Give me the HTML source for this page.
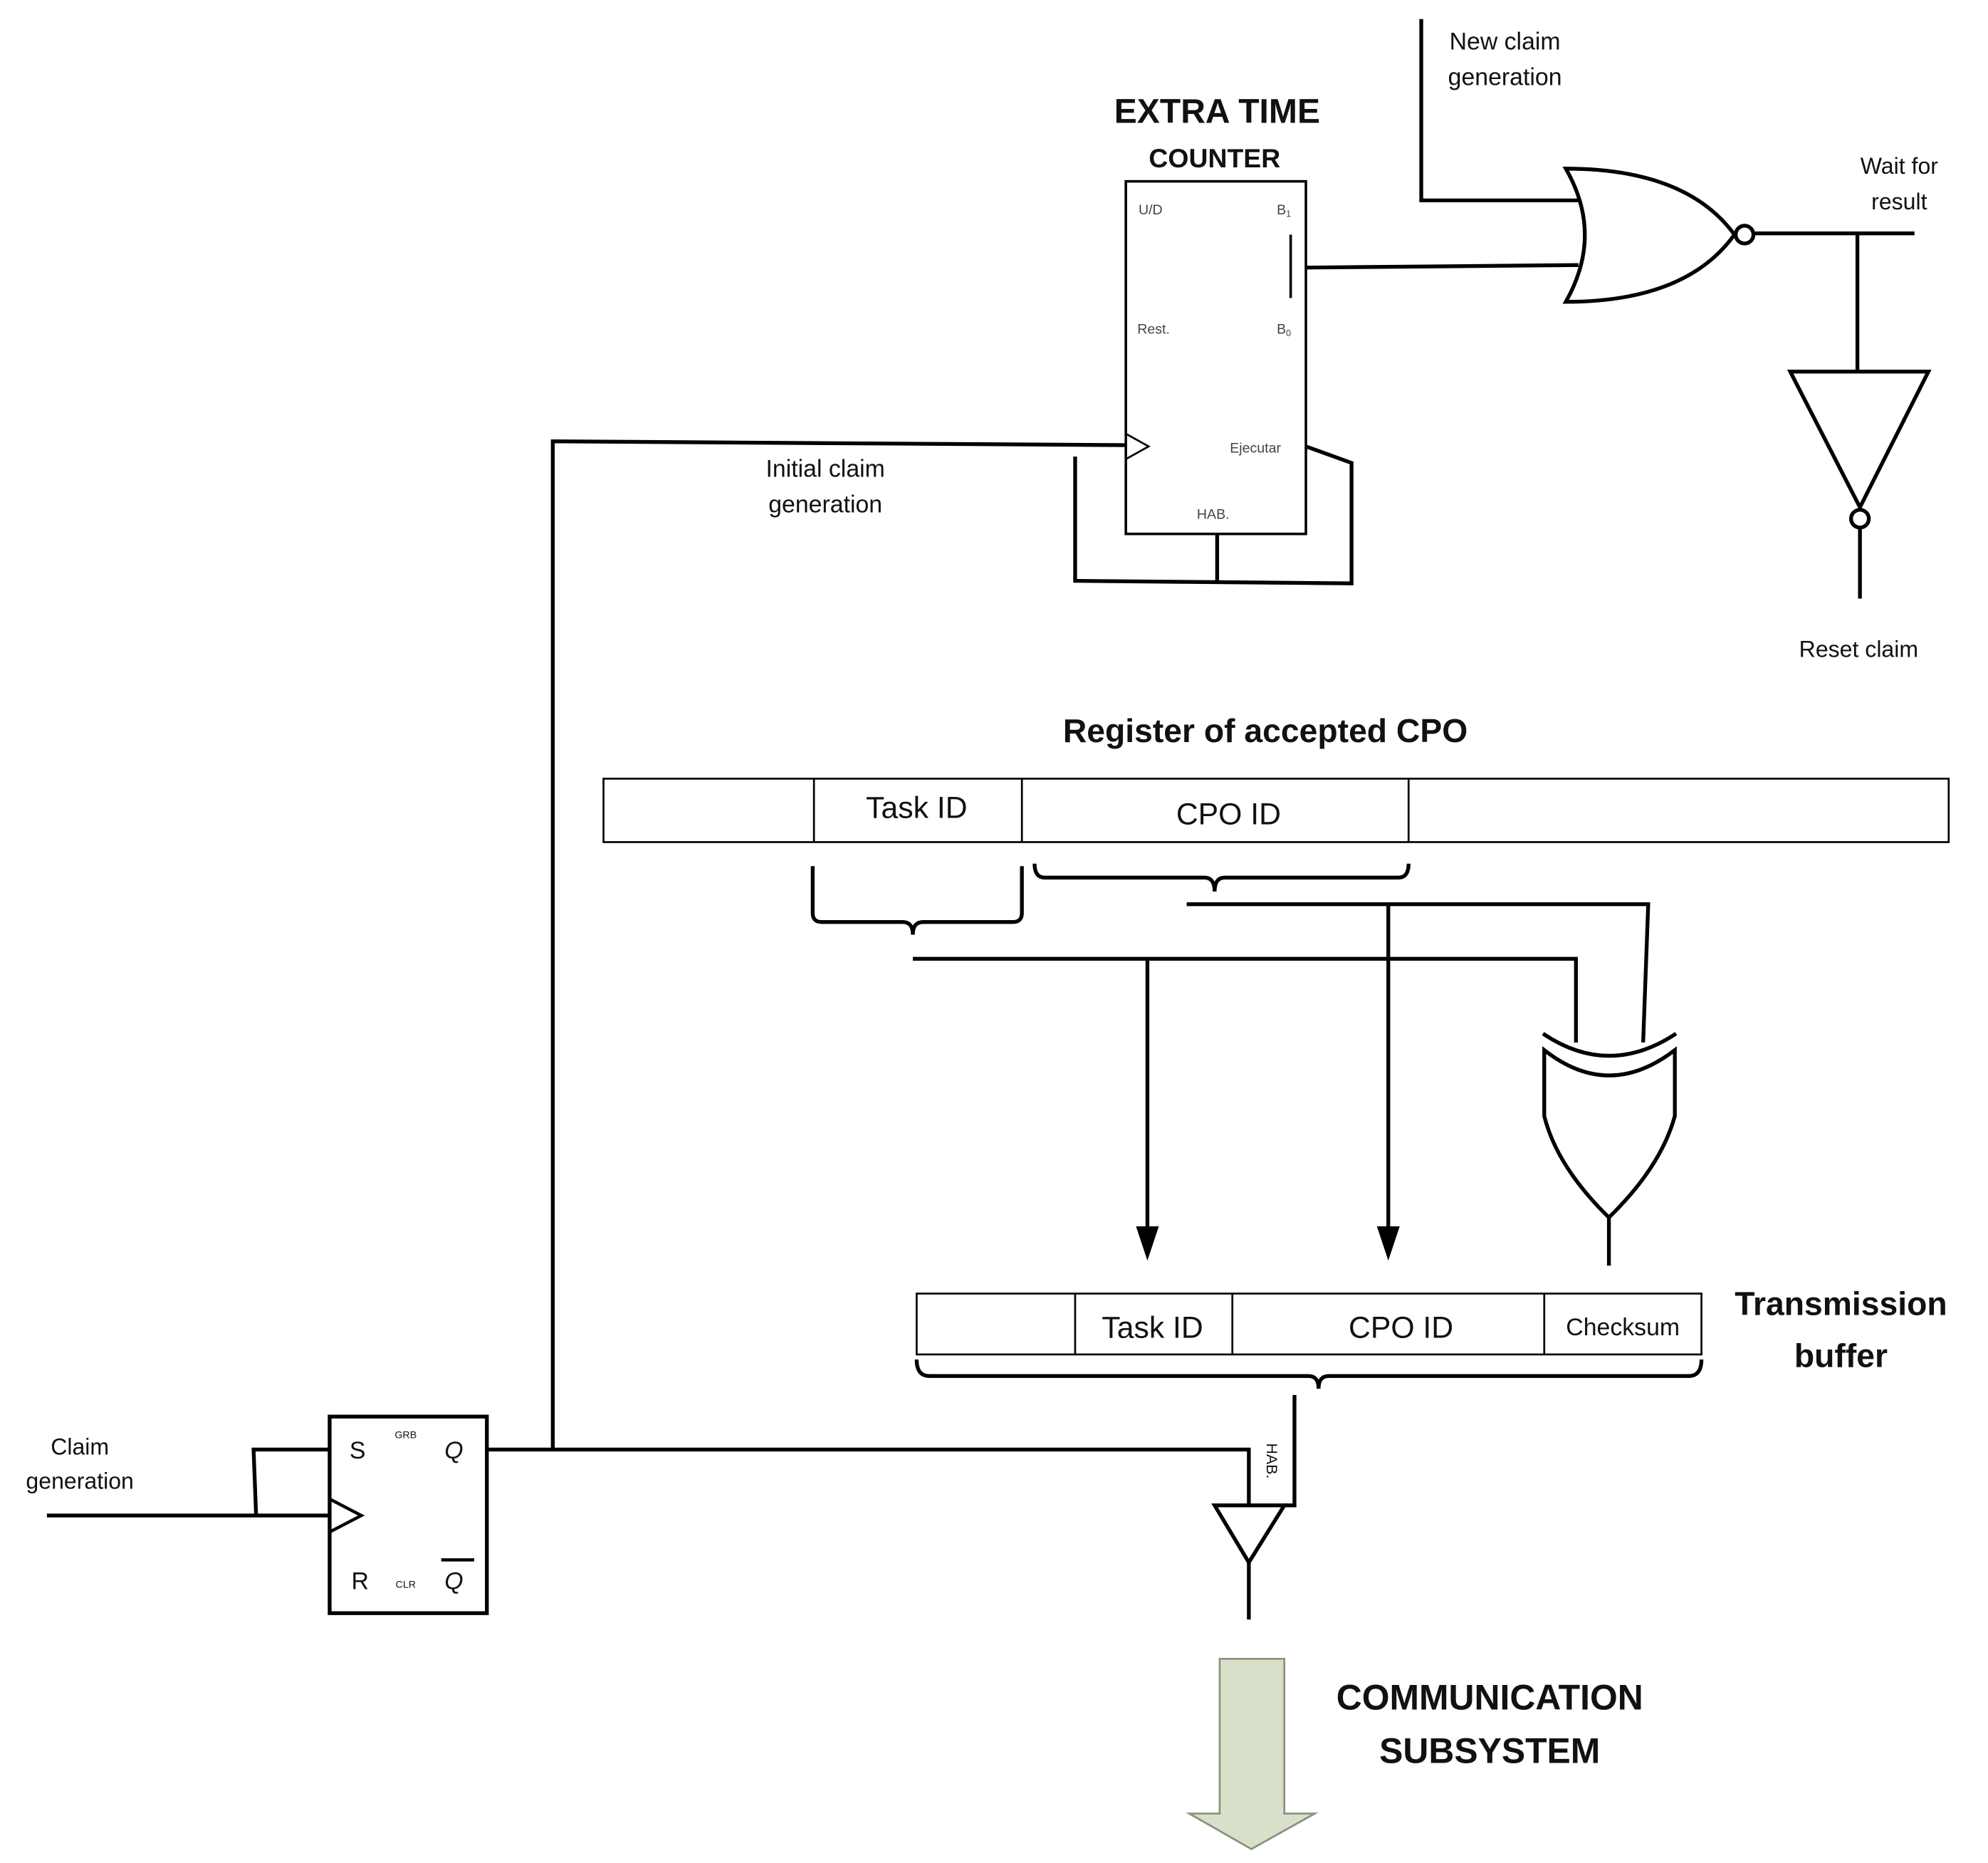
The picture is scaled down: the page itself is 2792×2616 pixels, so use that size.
<!DOCTYPE html>
<html><head><meta charset="utf-8"><style>html,body{margin:0;padding:0;background:#fff}svg{display:block}</style></head>
<body>
<svg width="2792" height="2616" viewBox="0 0 1568 1469" preserveAspectRatio="none" xmlns="http://www.w3.org/2000/svg" font-family="Liberation Sans, sans-serif">
<rect width="1568" height="1469" fill="#fff"/>
<g fill="none" stroke="#000" stroke-width="3">
<polyline points="1121,15 1121,158 1245,158"/>
<rect x="888" y="143" width="142" height="278" stroke-width="2"/>
<polyline points="888,342 906,352 888,362" stroke-width="1.5"/>
<line x1="1018" y1="185" x2="1018" y2="235" stroke-width="2"/>
<line x1="1030" y1="211" x2="1245" y2="209"/>
<path d="M1235,133 Q1265,185 1235,238 Q1330,238 1368,185 Q1330,133 1235,133 Z"/>
<circle cx="1376" cy="185" r="7"/>
<line x1="1383" y1="184" x2="1510" y2="184"/>
<line x1="1465" y1="184" x2="1465" y2="293"/>
<polygon points="1412,293 1521,293 1467,400"/>
<circle cx="1467" cy="409" r="7"/>
<line x1="1467" y1="416" x2="1467" y2="472"/>
<polyline points="436,1143 436,348 888,351"/>
<polyline points="848,360 848,458 1066,460 1066,365 1030,352"/>
<line x1="960" y1="421" x2="960" y2="458"/>
<rect x="476" y="614" width="1061" height="50" stroke-width="1.5"/>
<line x1="642" y1="614" x2="642" y2="664" stroke-width="1.5"/>
<line x1="806" y1="614" x2="806" y2="664" stroke-width="1.5"/>
<line x1="1111" y1="614" x2="1111" y2="664" stroke-width="1.5"/>
<path d="M641,683 L641,720 Q641,727 648,727 L712,727 Q720,727 720,737 Q720,727 728,727 L799,727 Q806,727 806,720 L806,683"/>
<path d="M816,681 Q816,692 824,692 L950,692 Q958,692 958,703 Q958,692 966,692 L1103,692 Q1111,692 1111,681"/>
<polyline points="720,756 1243,756 1243,822"/>
<polyline points="936,713 1300,713 1296,822"/>
<line x1="905" y1="756" x2="905" y2="972"/>
<line x1="1095" y1="713" x2="1095" y2="972"/>
<path d="M1217,815 Q1269,850 1322,815"/>
<path d="M1218,828 Q1269,868 1321,828 L1321,880 Q1310,920 1269,960 Q1228,920 1218,880 Z"/>
<line x1="1269" y1="960" x2="1269" y2="998"/>
<rect x="723" y="1020" width="619" height="48" stroke-width="1.5"/>
<line x1="848" y1="1020" x2="848" y2="1068" stroke-width="1.5"/>
<line x1="972" y1="1020" x2="972" y2="1068" stroke-width="1.5"/>
<line x1="1218" y1="1020" x2="1218" y2="1068" stroke-width="1.5"/>
<path d="M723,1072 Q723,1085 733,1085 L1032,1085 Q1040,1085 1040,1095 Q1040,1085 1048,1085 L1332,1085 Q1342,1085 1342,1072"/>
<polyline points="1021,1100 1021,1187 1013,1187"/>
<polygon points="958,1187 1013,1187 985,1232"/>
<line x1="985" y1="1232" x2="985" y2="1277"/>
<polyline points="384,1143 985,1143 985,1187"/>
<rect x="260" y="1117" width="124" height="155"/>
<polyline points="260,1182 285,1195 260,1208" stroke-width="2.5"/>
<line x1="37" y1="1195" x2="260" y2="1195"/>
<polyline points="202,1195 200,1143 260,1143"/>
<line x1="348" y1="1230" x2="374" y2="1230" stroke-width="2.5"/>
</g>
<g fill="#000">
<polygon points="896,967 914,967 905,994"/>
<polygon points="1086,967 1104,967 1095,994"/>
</g>
<polygon points="962,1308 1013,1308 1013,1430 1037,1430 987,1458 938,1430 962,1430" fill="#d7e0c8" stroke="#8a9080" stroke-width="1.5"/>
<g text-anchor="middle" fill="#111">
<text x="1187" y="39" font-size="19">New claim</text>
<text x="1187" y="67" font-size="19">generation</text>
<text x="960" y="97" font-size="27" font-weight="bold">EXTRA TIME</text>
<text x="958" y="132" font-size="21" font-weight="bold">COUNTER</text>
<text x="1498" y="137" font-size="18">Wait for</text>
<text x="1498" y="165" font-size="18">result</text>
<text x="1466" y="518" font-size="18">Reset claim</text>
<text x="651" y="376" font-size="19">Initial claim</text>
<text x="651" y="404" font-size="19">generation</text>
<text x="998" y="585" font-size="26" font-weight="bold">Register of accepted CPO</text>
<text x="723" y="645" font-size="24">Task ID</text>
<text x="969" y="650" font-size="24">CPO ID</text>
<text x="909" y="1055" font-size="24">Task ID</text>
<text x="1105" y="1055" font-size="24">CPO ID</text>
<text x="1280" y="1053" font-size="19">Checksum</text>
<text x="1452" y="1037" font-size="26" font-weight="bold">Transmission</text>
<text x="1452" y="1078" font-size="26" font-weight="bold">buffer</text>
<text x="1175" y="1348" font-size="28" font-weight="bold">COMMUNICATION</text>
<text x="1175" y="1390" font-size="28" font-weight="bold">SUBSYSTEM</text>
<text x="63" y="1147" font-size="18">Claim</text>
<text x="63" y="1174" font-size="18">generation</text>
<text x="282" y="1150" font-size="19">S</text>
<text x="358" y="1150" font-size="19" font-style="italic">Q</text>
<text x="284" y="1253" font-size="19">R</text>
<text x="358" y="1253" font-size="19" font-style="italic">Q</text>
<text x="320" y="1134" font-size="8">GRB</text>
<text x="320" y="1252" font-size="8">CLR</text>
</g>
<g fill="#444" font-size="11">
<text x="898" y="169">U/D</text>
<text x="1007" y="169">B<tspan font-size="7" dy="2">1</tspan></text>
<text x="897" y="263">Rest.</text>
<text x="1007" y="263">B<tspan font-size="7" dy="2">0</tspan></text>
<text x="970" y="357">Ejecutar</text>
<text x="944" y="409">HAB.</text>
<text transform="translate(999,1138) rotate(90)" font-size="12" fill="#111">HAB.</text>
</g>
</svg>
</body></html>
